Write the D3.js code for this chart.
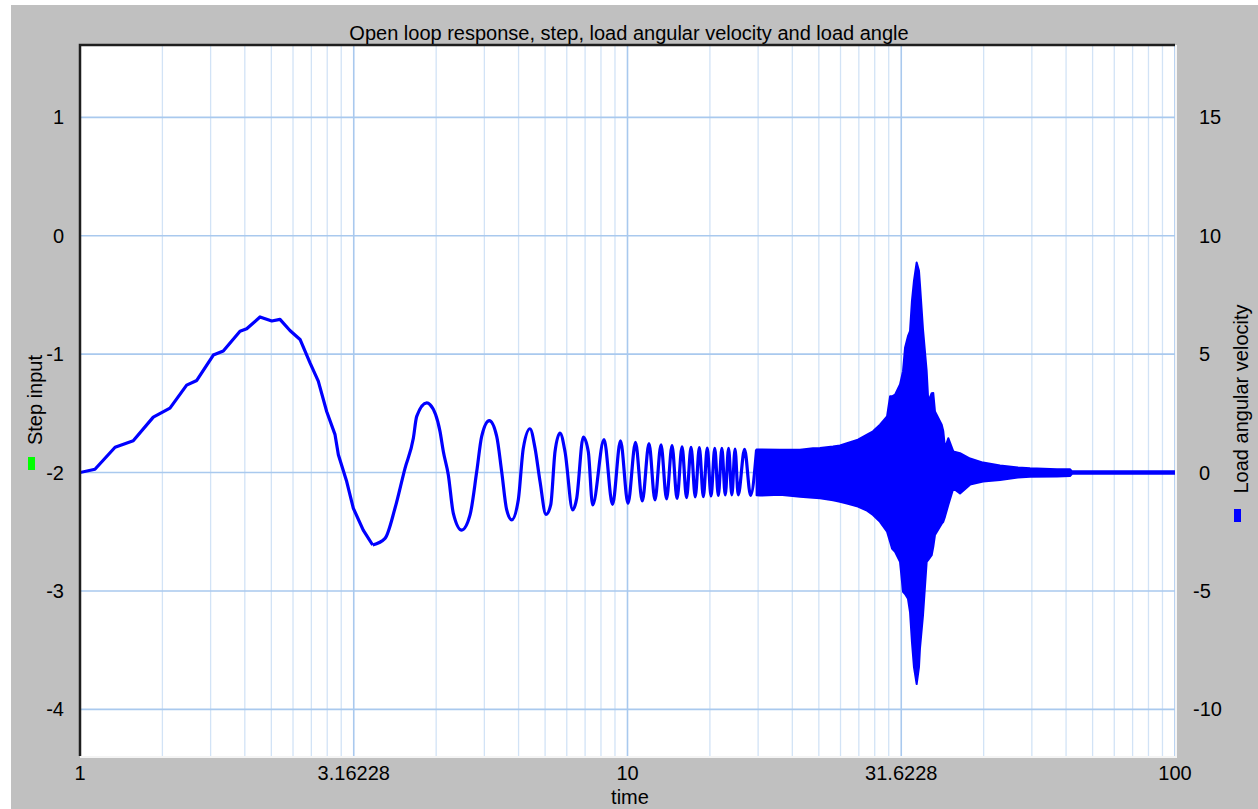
<!DOCTYPE html>
<html>
<head>
<meta charset="utf-8">
<script src="https://cdn.jsdelivr.net/npm/d3@7"></script>
<style>
  body { margin: 0; background: #fff; }
  text { font-family: "Liberation Sans", Arial, sans-serif; fill: #000; }
</style>
</head>
<body>
<svg width="1258" height="809"></svg>
<script>
// ticks
var xTicks = [1, 3.16228, 10, 31.6228, 100];
var xTickLabels = ["1", "3.16228", "10", "31.6228", "100"];
var leftTicks = [1, 0, -1, -2, -3, -4];
var rightTicks = [15, 10, 5, 0, -5, -10];

// load angular velocity, readable part of the trace (time, value)
var traceTime = [1, 1.065, 1.159, 1.251, 1.361, 1.460, 1.566, 1.634, 1.752, 1.827, 1.960, 2.016,
  2.132, 2.240, 2.319, 2.418, 2.523, 2.631, 2.724, 2.822, 2.923, 2.964, 3.070, 3.157, 3.291,
  3.424, 3.607, 3.761, 3.923, 4.063, 4.121, 4.298, 4.358, 4.545, 4.609, 4.707, 4.807, 4.980,
  5.157, 5.304, 5.416, 5.592, 5.769, 5.891, 6.017, 6.145, 6.317, 6.452, 6.636, 6.778, 6.922,
  7.098, 7.240, 7.373, 7.529, 7.688, 7.941, 8.076, 8.303, 8.479, 8.637,
  9.060, 9.389, 9.710, 10.021, 10.342, 10.642, 10.946, 11.224, 11.514, 11.785, 12.060, 12.316,
  12.579, 12.818, 13.064, 13.296, 13.528, 13.757, 13.985, 14.210, 14.433, 14.652, 14.871,
  15.085, 15.296, 15.509, 15.720, 15.93, 16.36, 16.78, 17.21];
var traceVel = [0, 0.14, 1.07, 1.34, 2.34, 2.72, 3.69, 3.89, 4.96, 5.13, 5.97, 6.07,
  6.57, 6.40, 6.47, 6.00, 5.62, 4.63, 3.86, 2.58, 1.60, 0.75, -0.38, -1.51, -2.43,
  -3.06, -2.78, -1.51, 0.18, 1.45, 2.37, 2.94, 2.87, 1.74, 0.89, -0.10, -1.72, -2.43,
  -1.79, 0.04, 1.53, 2.19, 1.53, 0.04, -1.58, -2.00, -1.16, 1.03, 1.85, 1.03, -0.38,
  -1.77, -1.37, 0.89, 1.67, 0.89, -1.58, -1.09, 1.50, 0.89, -1.37,
  1.39, -1.35, 1.34, -1.30, 1.27, -1.20, 1.22, -1.16, 1.17, -1.11, 1.14, -1.09,
  1.09, -1.06, 1.06, -1.03, 1.05, -1.02, 1.03, -0.99, 1.02, -0.97, 1.02,
  -0.94, 1.02, -0.94, 0.99, -0.94, 0.98, -0.96, 0.97];

// dense part of the trace: upper and lower envelope
var bandTime = [17.21, 17.46, 18.99, 20.66, 21.82, 22.47, 23.73, 24.44, 25.17, 26.36, 27.38, 28.08,
  28.92, 29.79, 30.17, 30.42, 30.81, 31.46, 31.86, 32.13, 32.53, 32.81, 33.08, 33.36, 33.74,
  34.07, 34.21, 34.65, 35.19, 35.43, 35.94, 36.18, 36.44, 37.49, 37.74, 38.01, 38.54, 39.36,
  40.49, 42.23, 44.61, 47.91, 51.68, 54.35, 60.88, 64.30, 64.85, 100];
var bandHigh = [0.97, 0.97, 0.96, 0.96, 1.03, 1.04, 1.10, 1.14, 1.24, 1.39, 1.60, 1.74,
  2.02, 2.37, 3.22, 3.22, 3.29, 3.72, 4.28, 5.27, 5.76, 5.97, 7.25, 8.09, 8.87,
  8.52, 7.95, 6.05, 4.28, 3.01, 3.35, 3.36, 2.58, 2.02, 1.74, 1.03, 1.45, 0.89,
  0.82, 0.59, 0.42, 0.30, 0.21, 0.18, 0.14, 0.14, 0.05, 0.05];
var bandLow = [-0.96, -0.97, -0.94, -1.02, -1.06, -1.09, -1.17, -1.23, -1.31, -1.44, -1.61, -1.79,
  -2.08, -2.50, -2.92, -3.21, -3.35, -3.77, -5.04, -5.13, -5.33, -5.89, -7.16, -8.22, -8.93,
  -8.22, -7.44, -6.03, -3.77, -3.69, -3.49, -3.14, -2.64, -2.16, -2.08, -1.86, -1.37, -0.67,
  -0.88, -0.51, -0.38, -0.31, -0.21, -0.18, -0.17, -0.15, -0.05, -0.05];

var svg = d3.select("svg"),
    width = +svg.attr("width"),
    height = +svg.attr("height");

// plot box
var pLeft = 80, pRight = 1175, pTop = 45, pBottom = 756;

var x = d3.scaleLog().domain([1, 100]).range([pLeft, pRight]);
var yLeft = d3.scaleLinear().domain([-4.394, 1.611]).range([pBottom, pTop]);
var yRight = d3.scaleLinear().domain([-4.394 * 5 + 10, 1.611 * 5 + 10]).range([pBottom, pTop]);

// background
svg.append("rect").attr("x", 11).attr("y", 5).attr("width", width - 11).attr("height", height - 5)
    .attr("fill", "#c0c0c0");
svg.append("rect").attr("x", pLeft).attr("y", pTop).attr("width", pRight - pLeft).attr("height", pBottom - pTop)
    .attr("fill", "#fff");

svg.append("clipPath").attr("id", "plot")
  .append("rect").attr("x", pLeft).attr("y", pTop).attr("width", pRight - pLeft).attr("height", pBottom - pTop);

var grid = svg.append("g");

// minor vertical lines: sqrt(2..9) steps inside every half decade
var minor = [];
xTicks.slice(0, -1).forEach(function(t) {
  for (var k = 2; k <= 9; k++) minor.push(t * Math.sqrt(k));
});
grid.selectAll(".minor").data(minor).enter().append("line")
    .attr("x1", d => x(d)).attr("x2", d => x(d))
    .attr("y1", pTop).attr("y2", pBottom)
    .attr("stroke", "#d2e3f6").attr("stroke-width", 1.3);

grid.selectAll(".major").data(xTicks).enter().append("line")
    .attr("x1", d => x(d)).attr("x2", d => x(d))
    .attr("y1", pTop).attr("y2", pBottom)
    .attr("stroke", "#a9c9ee").attr("stroke-width", 1.6);

grid.selectAll(".hline").data(leftTicks).enter().append("line")
    .attr("x1", pLeft).attr("x2", pRight)
    .attr("y1", d => yLeft(d)).attr("y2", d => yLeft(d))
    .attr("stroke", "#a9c9ee").attr("stroke-width", 1.6);

// the data
var plot = svg.append("g").attr("clip-path", "url(#plot)");

var band = bandTime.map((t, i) => ({t: t, hi: bandHigh[i], lo: bandLow[i]}));
plot.append("path")
    .datum(band)
    .attr("fill", "#0000ff")
    .attr("stroke", "#0000ff")
    .attr("stroke-width", 2)
    .attr("stroke-linejoin", "round")
    .attr("d", d3.area()
        .x(d => x(d.t))
        .y0(d => yRight(d.lo))
        .y1(d => yRight(d.hi)));

var trace = traceTime.map((t, i) => ({t: t, v: traceVel[i]}));
var lineFirst = d3.line().x(d => x(d.t)).y(d => yRight(d.v));
var lineRest = d3.line().curve(d3.curveMonotoneX).x(d => x(d.t)).y(d => yRight(d.v));

// first hump is drawn with straight segments, the swings after it smooth
plot.append("path")
    .datum(trace.slice(0, 26))
    .attr("fill", "none")
    .attr("stroke", "#0000ff")
    .attr("stroke-width", 3.2)
    .attr("stroke-linejoin", "round")
    .attr("d", lineFirst);
plot.append("path")
    .datum(trace.slice(25))
    .attr("fill", "none")
    .attr("stroke", "#0000ff")
    .attr("stroke-width", 3.2)
    .attr("stroke-linejoin", "round")
    .attr("d", lineRest);

// frame
svg.append("path")
    .attr("d", "M" + pLeft + "," + pBottom + "V" + pTop + "H" + pRight)
    .attr("fill", "none").attr("stroke", "#1e1e1e").attr("stroke-width", 2.5);
svg.append("path")
    .attr("d", "M" + pLeft + "," + (pBottom + 1) + "H" + (pRight + 1) + "V" + pTop)
    .attr("fill", "none").attr("stroke", "#f4f4f4").attr("stroke-width", 2);

// axes labels
svg.selectAll(".xlab").data(xTicks).enter().append("text")
    .attr("x", d => x(d)).attr("y", 780)
    .attr("text-anchor", "middle").attr("font-size", 20)
    .text((d, i) => xTickLabels[i]);

svg.selectAll(".llab").data(leftTicks).enter().append("text")
    .attr("x", 64).attr("y", d => yLeft(d) + 7)
    .attr("text-anchor", "end").attr("font-size", 20)
    .text(d => d);

svg.selectAll(".rlab").data(rightTicks).enter().append("text")
    .attr("x", d => d < 0 ? 1193 : 1199).attr("y", d => yRight(d) + 7)
    .attr("text-anchor", "start").attr("font-size", 20)
    .text(d => d);

svg.append("text")
    .attr("x", 629).attr("y", 40)
    .attr("text-anchor", "middle").attr("font-size", 20)
    .text("Open loop response, step, load angular velocity and load angle");

svg.append("text")
    .attr("x", 630).attr("y", 804)
    .attr("text-anchor", "middle").attr("font-size", 20)
    .text("time");

// legends
svg.append("text")
    .attr("transform", "translate(42,400) rotate(-90)")
    .attr("text-anchor", "middle").attr("font-size", 20)
    .text("Step input");
svg.append("rect").attr("x", 28).attr("y", 457).attr("width", 7).attr("height", 13)
    .attr("fill", "#00ff00");

svg.append("text")
    .attr("transform", "translate(1248,399) rotate(-90)")
    .attr("text-anchor", "middle").attr("font-size", 20)
    .text("Load angular velocity");
svg.append("rect").attr("x", 1234).attr("y", 509).attr("width", 7).attr("height", 13)
    .attr("fill", "#0000ff");
</script>
</body>
</html>
